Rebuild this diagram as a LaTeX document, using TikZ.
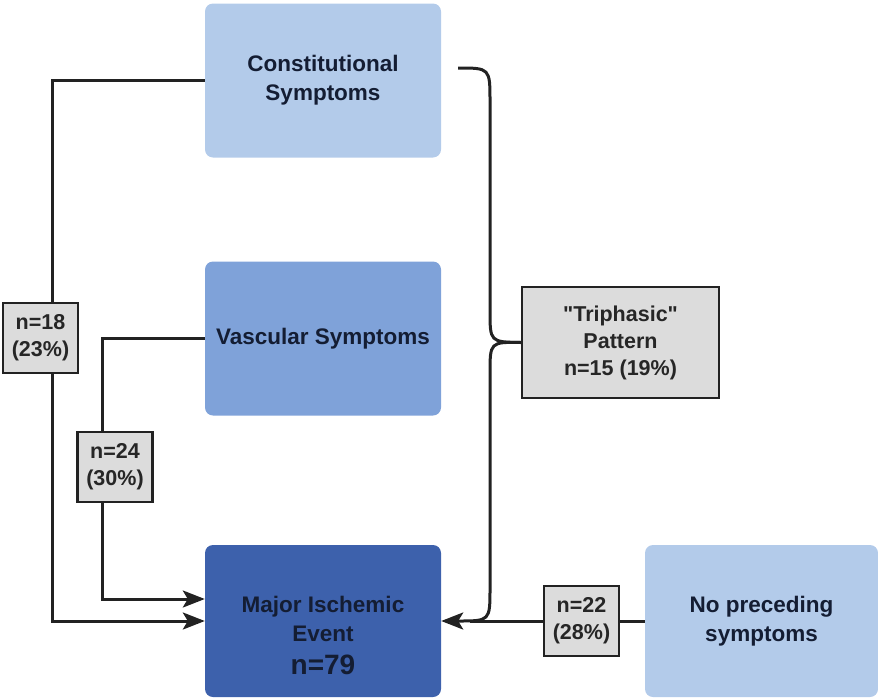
\documentclass[tikz,border=0pt]{standalone}
\usepackage{fontspec}
\setmainfont{Liberation Sans}
\usetikzlibrary{arrows.meta}
\definecolor{paleblue}{HTML}{B3CBEA}
\definecolor{midblue}{HTML}{7FA2D9}
\definecolor{deepblue}{HTML}{3D61AC}
\definecolor{inkblue}{HTML}{141D33}
\definecolor{tagfill}{HTML}{DCDCDC}
\definecolor{linegrey}{HTML}{222222}

\begin{document}
\begin{tikzpicture}[x=1pt,y=-1pt,
  box/.style={rounded corners=8pt, minimum width=236pt, minimum height=154pt, align=center,
    text=inkblue, font=\fontsize{22.5}{29}\selectfont\bfseries},
  tag/.style={draw=linegrey, line width=2.2pt, fill=tagfill, align=center, inner sep=0pt,
    text=black!85, font=\fontsize{21.5}{27}\selectfont\bfseries},
  link/.style={draw=linegrey, line width=3pt},
  arr/.style={link, -{Stealth[length=22pt,width=17pt,inset=5pt]}}]
\useasboundingbox (0,0) rectangle (878,699);
\node[box, fill=paleblue] (const) at (323,80.5) {Constitutional\\Symptoms};
\node[box, fill=midblue] (vasc) at (323,338.5) {Vascular Symptoms};
\node[box, fill=deepblue, minimum height=152pt] (major) at (323,621)
  {\rule{0pt}{46pt}Major Ischemic\\Event\\[4pt]{\fontsize{28}{32}\selectfont n=79}};
\node[box, fill=paleblue, minimum width=233pt, minimum height=152pt] (nopre) at (761.5,621)
  {No preceding\\symptoms};
\node[tag, minimum width=197pt, minimum height=111pt] (triph) at (620.5,342.5)
  {\textquotedbl Triphasic\textquotedbl\\Pattern\\n=15 (19\%)};

\coordinate (bend18) at (52,621);
\coordinate (bend24) at (102,599);
\coordinate (bracetop) at (458,68);
\coordinate (joinpt) at (470,621);

\draw[arr] (const.west) -| (bend18) -- (major.west);
\draw[arr] (vasc.west) -| (bend24) -- ([yshift=22pt]major.west);
\draw[link] (bracetop) .. controls (490,68) .. (490,102) -- (490,310)
  .. controls (490,342) .. (triph.west);
\draw[arr] (triph.west) .. controls (490,342) .. (490,374) -- (490,588)
  .. controls (490,621) .. (458,621) -- (major.east);
\draw[link] (nopre.west) -- (joinpt);

\foreach \name/\x/\y/\txt in {n18/40.5/338/{n=18\\(23\%)}, n24/115/467/{n=24\\(30\%)},
  n22/581.5/621/{n=22\\(28\%)}}
  \node[tag, minimum width=75pt, minimum height=70pt] (\name) at (\x,\y) {\txt};
\end{tikzpicture}
\end{document}
